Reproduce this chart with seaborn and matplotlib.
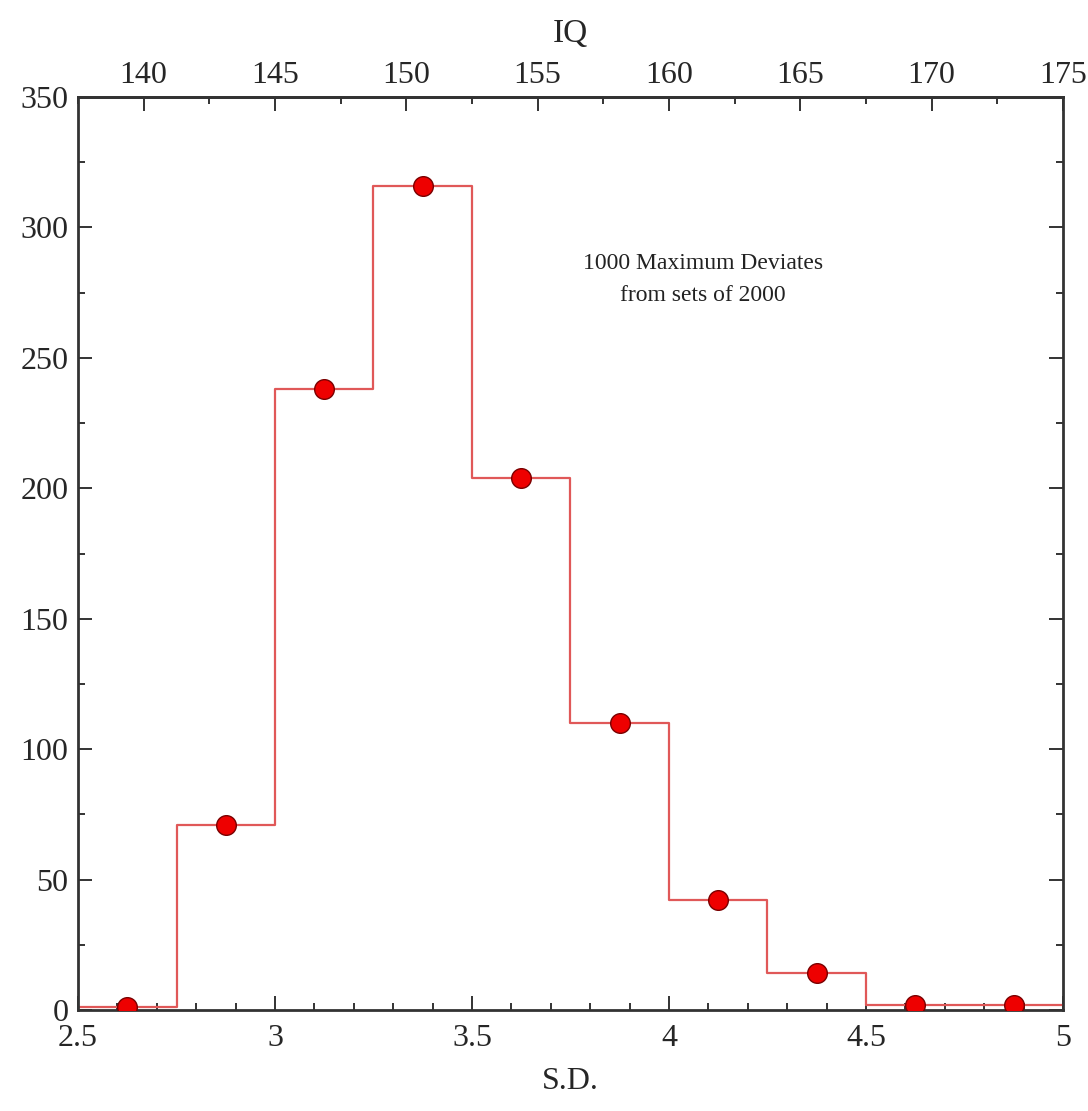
import numpy as np
import matplotlib
matplotlib.use("Agg")
import matplotlib.pyplot as plt
import seaborn as sns
from matplotlib.ticker import MultipleLocator

# bin edges (S.D.) and counts
bin_edges = [2.5, 2.75, 3.0, 3.25, 3.5, 3.75, 4.0, 4.25, 4.5, 4.75, 5.0]
bin_centers = [2.625, 2.875, 3.125, 3.375, 3.625, 3.875, 4.125, 4.375, 4.625, 4.875]
counts = [1, 71, 238, 316, 204, 110, 42, 14, 2, 2]
iq_ticks = [140, 145, 150, 155, 160, 165, 170, 175]

sns.set_style("ticks")
plt.rcParams['font.family'] = ['Liberation Serif', 'DejaVu Serif']

fig = plt.figure(figsize=(10.88, 11.11), dpi=100)
ax = fig.add_axes([0.0717, 0.0909, 0.9053, 0.8218])

sns.histplot(x=bin_centers, weights=counts, bins=bin_edges, element="step",
             fill=False, color="#e05858", linewidth=1.6, ax=ax)
sns.scatterplot(x=bin_centers, y=counts, s=200, color="#ee0000",
                edgecolor="#7a0000", linewidth=1.0, zorder=5, ax=ax)

ax.set_xlim(2.5, 5)
ax.set_ylim(0, 350)
ax.set_xticks([2.5, 3, 3.5, 4, 4.5, 5])
ax.set_xticklabels(["2.5", "3", "3.5", "4", "4.5", "5"])
ax.xaxis.set_minor_locator(MultipleLocator(0.1))
ax.yaxis.set_major_locator(MultipleLocator(50))
ax.yaxis.set_minor_locator(MultipleLocator(25))
ax.tick_params(which="both", direction="in", top=False, right=True,
               labelsize=23, color="#333333", width=1.4)
ax.tick_params(which="major", length=10, pad=7)
ax.tick_params(which="minor", length=5)
ax.tick_params(axis="x", which="major", pad=10)
ax.set_xlabel("S.D.", fontsize=23, labelpad=10)
ax.set_ylabel("")
for sp in ax.spines.values():
    sp.set_linewidth(2)
    sp.set_color("#333333")

top = ax.secondary_xaxis("top", functions=(lambda s: 100 + 15 * s, lambda q: (q - 100) / 15))
top.set_xticks(iq_ticks)
top.xaxis.set_minor_locator(MultipleLocator(2.5))
top.tick_params(which="both", direction="in", labelsize=23, color="#333333", width=1.4)
top.tick_params(which="major", length=10, pad=5)
top.tick_params(which="minor", length=5)
top.set_xlabel("IQ", fontsize=24, labelpad=14)
top.spines["top"].set_linewidth(2)

ax.text(4.086, 280, "1000 Maximum Deviates\nfrom sets of 2000", ha="center", va="center",
        fontsize=17, linespacing=1.7, color="#222222")

fig.savefig("out.png", dpi=100)
